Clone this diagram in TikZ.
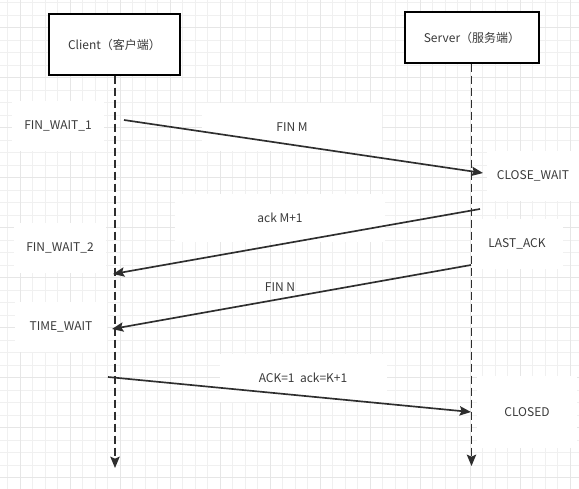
\documentclass[tikz,border=0pt]{standalone}
\usepackage{fontspec}
\setmainfont{Noto Sans CJK SC}
\usetikzlibrary{arrows.meta}
\definecolor{gridminor}{HTML}{F0F0F0}
\definecolor{gridmajor}{HTML}{E6E6E6}
\definecolor{ink}{HTML}{2E2E2E}
\definecolor{txt}{HTML}{3A3A3A}
\begin{document}
\begin{tikzpicture}[x=0.75pt,y=-0.75pt,
  font=\fontsize{9}{11}\selectfont,
  actor/.style={draw=black,line width=1.1pt,fill=white,minimum width=131*0.75pt,minimum height=61*0.75pt,text=txt,inner sep=0pt},
  statelbl/.style={fill=white,text=txt,minimum width=92*0.75pt,minimum height=50*0.75pt,inner sep=0pt},
  msglbl/.style={fill=white,text=txt,minimum width=180*0.75pt,minimum height=48*0.75pt,inner sep=0pt},
  lifeline/.style={draw=ink,line width=1.25pt,dash pattern=on 6pt off 3pt,-{Stealth[length=8.5pt,width=7pt,inset=1.5pt]}},
  msg/.style={draw=ink,line width=1.25pt,-{Stealth[length=8.5pt,width=7pt,inset=1.5pt]}}
]
\useasboundingbox (0,0) rectangle (579,489);
\fill[white] (0,0) rectangle (579,489);
% grid
\foreach \k in {0,...,45} {\draw[gridminor,line width=0.6pt] ({7.5+12.5*\k},0) -- ({7.5+12.5*\k},489);}
\foreach \k in {0,...,38} {\draw[gridminor,line width=0.6pt] (0,{2.5+12.5*\k}) -- (579,{2.5+12.5*\k});}
\foreach \k in {0,...,11} {\draw[gridmajor,line width=0.6pt] ({20+50*\k},0) -- ({20+50*\k},489);}
\foreach \k in {0,...,9} {\draw[gridmajor,line width=0.6pt] (0,{27.5+50*\k}) -- (579,{27.5+50*\k});}

% labels (white boxes)
\node[statelbl] (fw1) at (58,126) {FIN\_WAIT\_1};
\node[statelbl] (fw2) at (60,248) {FIN\_WAIT\_2};
\node[statelbl] (tw) at (61,327) {TIME\_WAIT};
\node[statelbl] (cw) at (533,176) {CLOSE\_WAIT};
\node[statelbl] (la) at (517,244) {LAST\_ACK};
\node[statelbl,minimum height=72*0.75pt,minimum width=100*0.75pt] (cl) at (527,412) {CLOSED};
\node[msglbl] (lfinm) at (292,127) {FIN M};
\node[msglbl,minimum width=210*0.75pt] (lack) at (280,218) {ack M+1};
\node[msglbl,fill=none] (lfinn) at (280,287) {FIN N};
\node[msglbl,minimum width=167*0.75pt] (lfin) at (303,378) {ACK=1\ \ ack=K+1};

% actors
\node[actor] (client) at (114.5,44.5) {Client（客户端）};
\node[actor,minimum width=134*0.75pt,minimum height=51*0.75pt] (server) at (472,37.5) {Server（服务端）};

% lifeline ends
\coordinate (cend) at (115,468);
\coordinate (send) at (471.5,466);
\draw[lifeline] (client.south -| cend) -- (cend);
\draw[lifeline] (server.south -| send) -- (send);

% message endpoints
\coordinate (m1a) at (124,120);
\coordinate (m1b) at (483,173);
\coordinate (m2a) at (480,209);
\coordinate (m2b) at (113,274);
\coordinate (m3a) at (471,265);
\coordinate (m3b) at (112,329);
\coordinate (m4a) at (108,377);
\coordinate (m4b) at (471,412);
\draw[msg] (m1a) -- (m1b);
\draw[msg] (m2a) -- (m2b);
\draw[msg] (m3a) -- (m3b);
\draw[msg] (m4a) -- (m4b);
\end{tikzpicture}
\end{document}
